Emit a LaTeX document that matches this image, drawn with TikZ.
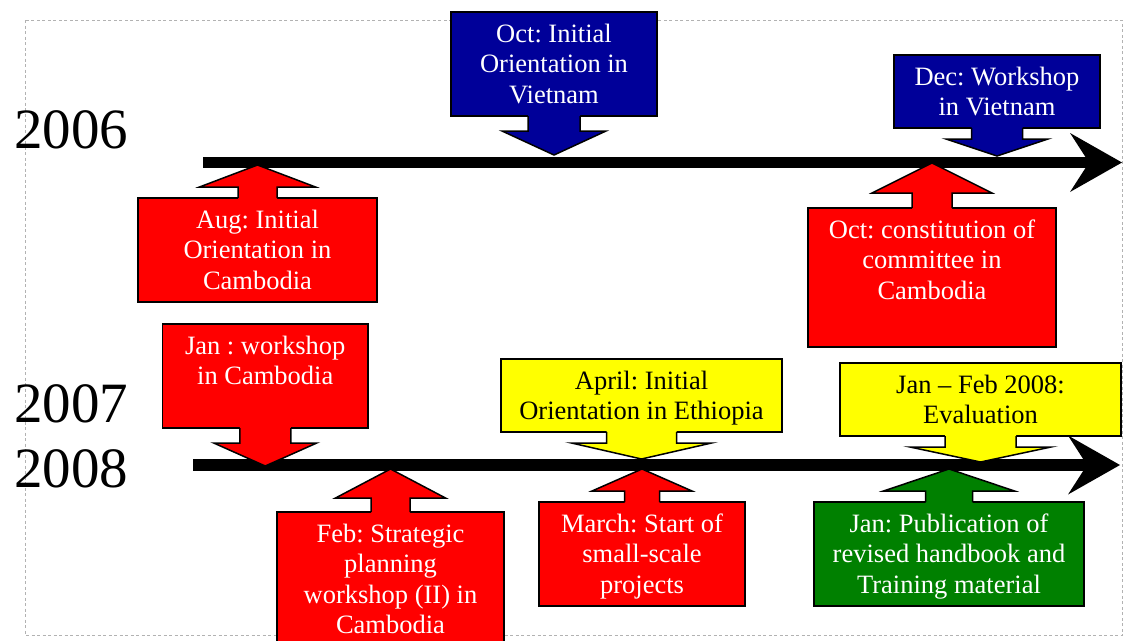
\documentclass[tikz,border=0pt]{standalone}
\usepackage{fontspec}
\setmainfont{Liberation Serif}
\usetikzlibrary{arrows.meta}
\definecolor{evred}{RGB}{255,0,0}
\definecolor{evnavy}{RGB}{0,0,153}
\definecolor{evyellow}{RGB}{255,255,0}
\definecolor{evgreen}{RGB}{0,128,0}
\newcommand{\evtext}[3]{\parbox[c][#2pt][t]{#1pt}{\centering\frenchspacing\rule{0pt}{30pt}#3}}
\newcommand{\ptrup}[6]{%
  \fill[#2] (#1.north) ++(-#3,1) -- ++(0,-#4-1) -- ++(#3-#5,0) -- ++(#5,-#6) -- ++(#5,#6) -- ++(#3-#5,0) -- ++(0,#4+1) -- cycle;
  \draw[ptrline] (#1.north) ++(-#3,0) -- ++(0,-#4) -- ++(#3-#5,0) -- ++(#5,-#6) -- ++(#5,#6) -- ++(#3-#5,0) -- ++(0,#4);
}
\newcommand{\ptrdown}[6]{%
  \fill[#2] (#1.south) ++(-#3,-1) -- ++(0,#4+1) -- ++(#3-#5,0) -- ++(#5,#6) -- ++(#5,-#6) -- ++(#3-#5,0) -- ++(0,-#4-1) -- cycle;
  \draw[ptrline] (#1.south) ++(-#3,0) -- ++(0,#4) -- ++(#3-#5,0) -- ++(#5,#6) -- ++(#5,-#6) -- ++(#3-#5,0) -- ++(0,-#4);
}
\begin{document}
\begin{tikzpicture}[x=1pt,y=-1pt,
    evbox/.style={draw,line width=1.5pt,outer sep=0pt,inner sep=0pt,font=\fontsize{26.5}{30.5}\selectfont},
    redbox/.style={evbox,fill=evred,text=white},
    bluebox/.style={evbox,fill=evnavy,text=white},
    yellowbox/.style={evbox,fill=evyellow,text=black},
    greenbox/.style={evbox,fill=evgreen,text=white},
    ptrline/.style={line width=1.5pt,line join=miter},
    timeline/.style={line width=11pt,-{Stealth[length=52pt,width=59pt,inset=19pt,line width=0pt]}},
    yearlbl/.style={font=\fontsize{57}{60}\selectfont,inner sep=0pt,anchor=base west}]
    \useasboundingbox (0,0) rectangle (1123,640);
    \clip (0,0) rectangle (1123,640);
    \draw[black!30,line width=1pt,dash pattern=on 3pt off 2.5pt] (25.5,20) rectangle (1122,635.5);

    \coordinate (a06) at (203,162.5);
    \coordinate (b06) at (1122,162.5);
    \coordinate (a08) at (193,465);
    \coordinate (b08) at (1120,465);
    \draw[timeline] (a06) -- (b06);
    \draw[timeline,line width=12pt] (a08) -- (b08);

    \node[redbox] (aug) at (257.5,250) {\evtext{239}{104}{Aug: Initial\\Orientation in\\Cambodia}};
    \ptrup{aug}{evred}{19.5}{11}{58}{22}
    \node[bluebox] (octvn) at (554,64) {\evtext{206}{104}{Oct: Initial\\Orientation in\\Vietnam}};
    \ptrdown{octvn}{evnavy}{26}{15}{52}{24}
    \node[bluebox] (decvn) at (997,91.5) {\evtext{206}{73}{Dec: Workshop\\in Vietnam}};
    \ptrdown{decvn}{evnavy}{25.5}{11}{51}{17}
    \node[redbox] (octkh) at (932,277.5) {\evtext{248}{139}{Oct: constitution of\\committee in\\Cambodia}};
    \ptrup{octkh}{evred}{20}{15}{60}{30}

    \node[redbox] (jankh) at (265.25,376) {\evtext{205.5}{104}{Jan : workshop\\in Cambodia}};
    \ptrdown{jankh}{evred}{25.5}{15}{51.5}{23}
    \node[redbox] (febkh) at (390.5,586) {\evtext{227}{148}{Feb: Strategic\\planning\\workshop (II) in\\Cambodia}};
    \ptrup{febkh}{evred}{19.5}{14}{55}{29}
    \node[yellowbox] (apret) at (641.5,395.5) {\evtext{281}{73}{April: Initial\\Orientation in Ethiopia}};
    \ptrdown{apret}{evyellow}{35}{11}{70}{16}
    \node[redbox] (marsp) at (642,554) {\evtext{206}{104}{March: Start of\\small-scale\\projects}};
    \ptrup{marsp}{evred}{17.5}{11}{50}{22}
    \node[yellowbox] (evalu) at (980.5,399.5) {\evtext{281}{73}{Jan -- Feb 2008:\\Evaluation}};
    \ptrdown{evalu}{evyellow}{35.5}{11}{70.5}{15}
    \node[greenbox] (pubhb) at (949,554) {\evtext{270}{104}{Jan: Publication of\\revised handbook and\\Training material}};
    \ptrup{pubhb}{evgreen}{23.5}{11}{65.5}{22}

    \node[yearlbl] (y2006) at (14,148) {2006};
    \node[yearlbl] (y2007) at (14,422) {2007};
    \node[yearlbl] (y2008) at (14,487) {2008};
\end{tikzpicture}
\end{document}
